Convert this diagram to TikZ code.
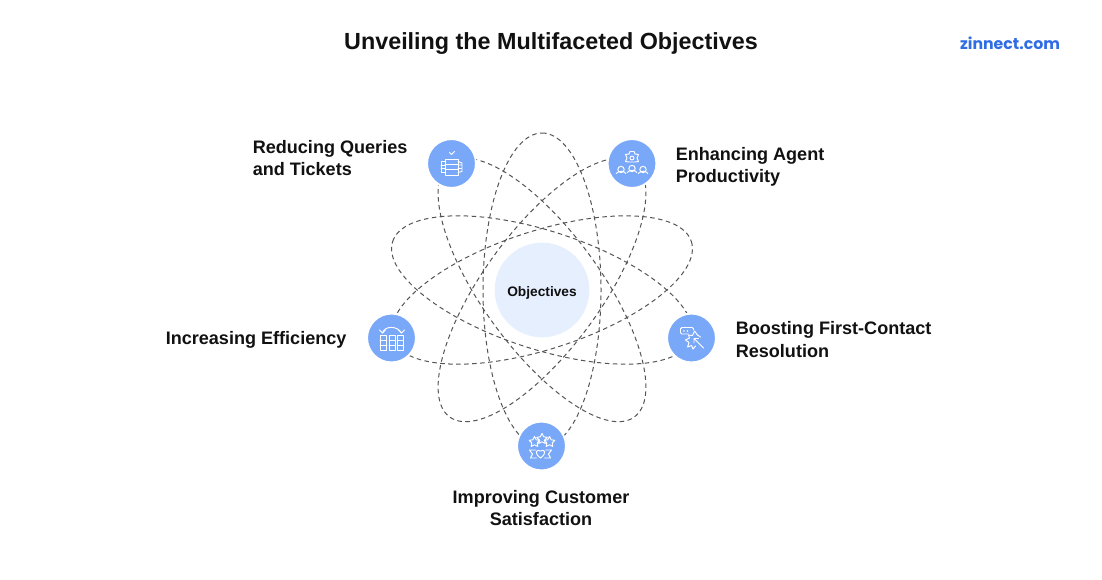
\documentclass[tikz,border=0pt]{standalone}
\usepackage{fontspec}
\setmainfont{Liberation Sans}
\newfontfamily\logofont{Poppins}
\definecolor{ringblue}{HTML}{7AA8F8}
\definecolor{corefill}{HTML}{E6EFFE}
\definecolor{orbit}{HTML}{555555}
\definecolor{logoblue}{HTML}{2F6CE5}
\definecolor{inktext}{HTML}{111111}
\tikzset{
  orbitline/.style={draw=orbit,line width=0.75pt,dash pattern=on 3.4pt off 2.6pt},
  badge/.style={circle,fill=ringblue,draw=white,line width=1.4pt,minimum size=36.6pt,inner sep=0pt},
  core/.style={circle,fill=corefill,minimum size=71pt,inner sep=0pt},
  lbl/.style={text=inktext,font=\fontsize{13.55}{16.6}\selectfont\bfseries,align=left,inner sep=0pt},
  icon/.style={draw=white,line width=0.7pt,fill=none,line join=round,line cap=round}
}
\begin{document}
\begin{tikzpicture}[x=0.75pt,y=-0.75pt]
\useasboundingbox (0,0) rectangle (1102,579);
\fill[white] (0,0) rectangle (1102,579);
\coordinate (hub) at (542,290);
\foreach \a in {90,54,126,18,162}{
  \draw[orbitline,rotate around={\a:(hub)}] (hub) ellipse [x radius=157,y radius=59];
}
\node[core] (objectives) at (hub) {};
\node[text=inktext,font=\fontsize{10.3}{12}\selectfont\bfseries,inner sep=0pt] (objlabel) at (542,292.5) {Objectives};
\node[badge] (reduce) at (451.5,163.5) {};
\node[badge] (agent) at (632,163.5) {};
\node[badge] (boost) at (691.5,338) {};
\node[badge] (satis) at (541.5,446) {};
\node[badge] (effic) at (391.5,338) {};

\node[font=\fontsize{17.5}{20}\selectfont\bfseries,text=inktext,inner sep=0pt] (title) at (551,43.5) {Unveiling the Multifaceted Objectives};
\node[font=\logofont\fontsize{11.8}{14}\selectfont\bfseries,text=logoblue,inner sep=0pt] (logo) at (1010,43) {zinnect.com};

\node[lbl,anchor=west] (t1) at (252.5,158) {Reducing Queries\\and Tickets};
\node[lbl,anchor=west] (t2) at (675.5,166.5) {Enhancing Agent\\Productivity};
\node[lbl,anchor=west] (t3) at (735.5,339.5) {Boosting First-Contact\\Resolution};
\node[lbl,align=center] (t4) at (541,508) {Improving Customer\\Satisfaction};
\node[lbl,anchor=west] (t5) at (165.5,339.5) {Increasing Efficiency};

% reduce icon
\begin{scope}[shift={(reduce.center)}]
  \draw[icon] (-6.5,-4.5) rectangle (6.5,11.5);
  \draw[icon] (-6.5,0.8) -- (6.5,0.8) (-6.5,6.2) -- (6.5,6.2);
  \draw[icon] (-6.5,-2) -- (-10.5,-2) -- (-10.5,9) -- (-6.5,9) (-10.5,1.5) -- (-6.5,1.5) (-10.5,5) -- (-6.5,5);
  \draw[icon] (6.5,-2) -- (10.5,-0.5) -- (10.5,8) -- (6.5,9) (6.5,1.5) -- (10.5,1.5) (6.5,5) -- (10.5,5);
  \draw[icon] (-2,-11) -- (0,-9) -- (3,-12);
\end{scope}
% agent icon
\begin{scope}[shift={(agent.center)}]
  \draw[icon] (0,-5.5) circle (2);
  \draw[icon] (-2,-12) -- (2,-12) -- (3,-9.5) -- (6.5,-9) -- (5,-5.5) -- (6.5,-2) -- (3,-1.5) -- (-3,-1.5) -- (-6.5,-2) -- (-5,-5.5) -- (-6.5,-9) -- (-3,-9.5) -- cycle;
  \foreach \cx/\cy in {-11/6,0/5,11/6}{
    \draw[icon] (\cx,\cy) circle (3.2);
    \draw[icon] (\cx-4.8,\cy+4) arc[start angle=200,end angle=340,x radius=5.1,y radius=3.5];
  }
\end{scope}
% efficiency icon
\begin{scope}[shift={(effic.center)}]
  \foreach \cx in {-8.5,0.5,8.8}{
    \draw[icon] (\cx-3,-3) rectangle (\cx+3,12);
    \draw[icon] (\cx-3,2) -- (\cx+3,2) (\cx-3,7) -- (\cx+3,7);
  }
  \draw[icon] (-9,-5) .. controls (-7,-12.5) and (6,-12.5) .. (10,-5);
  \draw[icon] (-12,-8) -- (-9,-5) -- (-6,-8);
  \draw[icon] (7,-8) -- (10,-5) -- (13,-8);
\end{scope}
% boost icon
\begin{scope}[shift={(boost.center)}]
  \draw[icon,rounded corners=1pt] (-3,-4) -- (-11,-4) -- (-11,-10.5) -- (2,-10.5) -- (2,-8);
  \fill[white] (-7.5,-7) circle (0.9) (-4,-7) circle (0.9);
  \draw[icon] (6,-3) -- (3,-7) -- (1,-2.5) -- (-3,-3) -- (-2,0) -- (-6,2) -- (-2.5,4.5) -- (-4,9) -- (0,7.5) -- (1.5,11) -- (4,8);
  \draw[icon] (9,-1) -- (6,-3);
  \draw[icon] (2.5,0.5) -- (12,10) (2.5,0.5) -- (2.5,5) (2.5,0.5) -- (7,0.5);
\end{scope}
% satisfaction icon
\begin{scope}[shift={(satis.center)}]
  \foreach \cx/\cy in {-7/-4,0.5/-7,8/-4}{
    \draw[icon] (\cx,\cy-5.5) -- ++(1.7,3.3) -- ++(3.6,0.5) -- ++(-2.6,2.6) -- ++(0.6,3.6) -- ++(-3.3,-1.7) -- ++(-3.3,1.7) -- ++(0.6,-3.6) -- ++(-2.6,-2.6) -- ++(3.6,-0.5) -- cycle;
  }
  \draw[icon] (-1,12) .. controls (-8,7) and (-5,2.5) .. (-1,5) .. controls (3,2.5) and (6,7) .. (-1,12);
  \draw[icon] (-6,4) -- (-12,4) -- (-9,8) -- (-11,12) -- (-5,12);
  \draw[icon] (4,4) -- (10,4) -- (7,8) -- (9,12) -- (3,12);
\end{scope}
\end{tikzpicture}
\end{document}
